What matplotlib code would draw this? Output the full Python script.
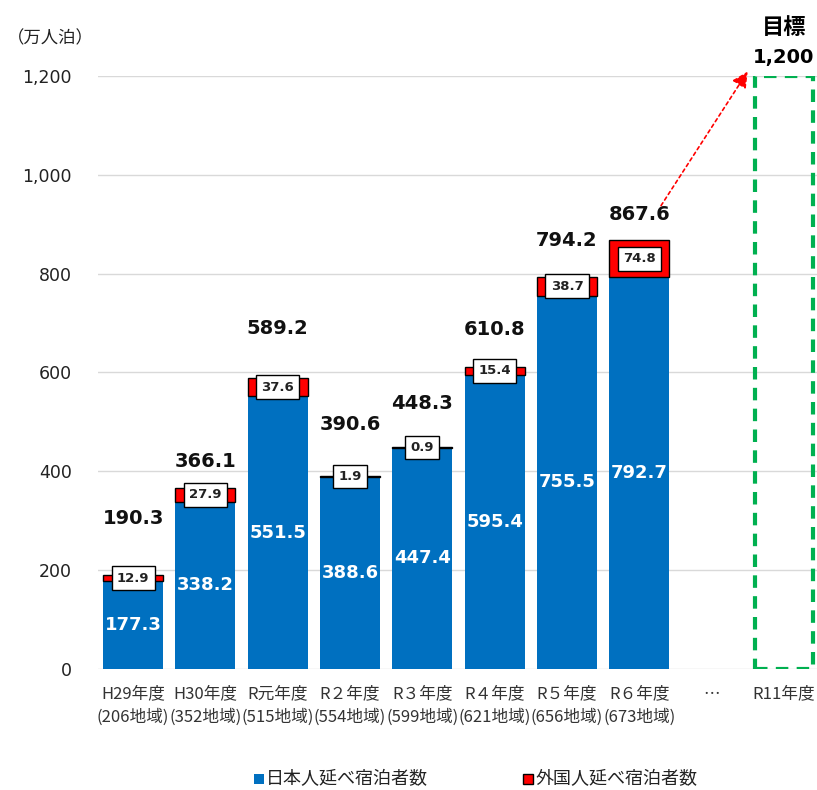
import numpy as np
import matplotlib.pyplot as plt

plt.rcParams['font.family'] = ['Noto Sans CJK JP', 'DejaVu Sans']

# 年度ごとの延べ宿泊者数（万人泊）
years = ['H29年度', 'H30年度', 'R元年度', 'R２年度', 'R３年度', 'R４年度', 'R５年度', 'R６年度']
regions = ['206地域', '352地域', '515地域', '554地域', '599地域', '621地域', '656地域', '673地域']
japanese = [177.3, 338.2, 551.5, 388.6, 447.4, 595.4, 755.5, 792.7]
foreign = [12.9, 27.9, 37.6, 1.9, 0.9, 15.4, 38.7, 74.8]
totals = [190.3, 366.1, 589.2, 390.6, 448.3, 610.8, 794.2, 867.6]
# 合計ラベルを棒の上からずらす量（pt）
total_offsets = [34, 12, 29, 30, 25, 20, 19, 12]
target_label = 'R11年度'
target = 1200

blue = '#0070C0'
red = '#FF0000'
green = '#00B050'

fig = plt.figure(figsize=(8.17, 7.9), dpi=100)
ax = fig.add_axes([0.12, 0.1532, 0.88, 0.7506])

x = np.arange(len(years))
w = 0.83
ax.bar(x, japanese, w, color=blue, zorder=2)
ax.bar(x, foreign, w, bottom=japanese, color=red, edgecolor='black', linewidth=1, zorder=2)

# 目標の枠（R11年度）
xt = len(years) + 1
ax.bar(xt, target, 0.8, facecolor='none', edgecolor=green, linewidth=3,
       linestyle=(0, (3, 2)), zorder=3)

for i in range(len(years)):
    ax.text(x[i], japanese[i] / 2, f'{japanese[i]:.1f}', ha='center', va='center',
            color='white', fontsize=13, fontweight='bold', family='DejaVu Sans', zorder=4)
    ax.text(x[i], japanese[i] + foreign[i] / 2, f'{foreign[i]:.1f}', ha='center', va='center',
            fontsize=9.5, fontweight='bold', family='DejaVu Sans', color='#222222', zorder=5,
            bbox=dict(boxstyle='square,pad=0.4', facecolor='white', edgecolor='black', linewidth=1))
    ax.annotate(f'{totals[i]:.1f}', (x[i], japanese[i] + foreign[i]),
                xytext=(0, total_offsets[i]), textcoords='offset points',
                ha='center', va='bottom', fontsize=14, fontweight='bold',
                family='DejaVu Sans', color='#111111')

# 目標へ向かう矢印
ax.annotate('', xy=(8.52, 1214), xytext=(7.28, 933),
            arrowprops=dict(arrowstyle='-|>,head_length=0.8,head_width=0.4', color=red,
                            linestyle=(0, (2, 2)), linewidth=1.2, mutation_scale=12),
            annotation_clip=False)
ax.text(xt, 1238, f'{target:,}', ha='center', va='center', fontsize=14,
        fontweight='bold', family='DejaVu Sans', clip_on=False)
ax.text(xt, 1298, '目標', ha='center', va='center', fontsize=16, fontweight='bold',
        clip_on=False)

ax.set_ylim(0, 1200)
ax.set_xlim(-0.484, 9.457)
ax.set_yticks(np.arange(0, 1201, 200))
ax.set_yticklabels([f'{v:,}' for v in range(0, 1201, 200)], family='DejaVu Sans',
                   fontsize=12.5, color='#222222')
xlabels = [f'{y}\n({r})' for y, r in zip(years, regions)] + ['…', target_label]
ax.set_xticks(np.arange(len(xlabels)))
ax.set_xticklabels(xlabels, fontsize=12, color='#333333', linespacing=1.4)
ax.tick_params(length=0)
ax.tick_params(axis='y', pad=19)
ax.tick_params(axis='x', pad=12)
ax.grid(axis='y', color='#d9d9d9', linewidth=1, zorder=0)
ax.set_axisbelow(True)
for s in ax.spines.values():
    s.set_visible(False)

fig.text(0.008, 0.952, '（万人泊）', fontsize=12.5, va='center', color='#222222')

# 凡例
fig.patches.append(plt.Rectangle((0.311, 0.008), 0.0122, 0.0126, transform=fig.transFigure,
                                 facecolor=blue, edgecolor='none'))
fig.text(0.325, 0.014, '日本人延べ宿泊者数', fontsize=13, va='center', color='#222222')
fig.patches.append(plt.Rectangle((0.640, 0.008), 0.0122, 0.0126, transform=fig.transFigure,
                                 facecolor=red, edgecolor='black', linewidth=1))
fig.text(0.656, 0.014, '外国人延べ宿泊者数', fontsize=13, va='center', color='#222222')

plt.savefig('out.png', dpi=100)
